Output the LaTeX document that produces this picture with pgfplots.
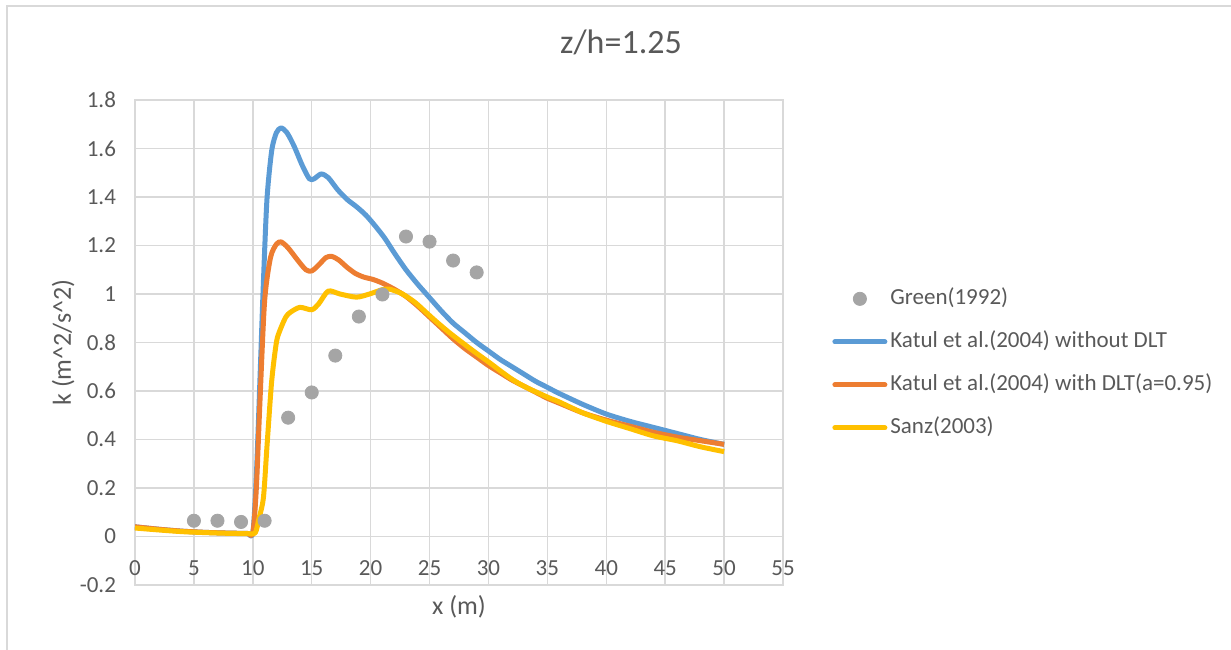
\documentclass[border=0pt]{standalone}
\usepackage{pgfplots}
\pgfplotsset{compat=1.18}
\usepackage{fontspec}
\setmainfont{Carlito}

\definecolor{gridgray}{HTML}{D9D9D9}
\definecolor{txtgray}{HTML}{595959}
\definecolor{kblue}{HTML}{5B9BD5}
\definecolor{korange}{HTML}{ED7D31}
\definecolor{syellow}{HTML}{FFC000}
\definecolor{ptgray}{HTML}{A5A5A5}

\begin{document}
\begin{tikzpicture}[x=1pt,y=1pt]
% chart area border (top and left edges)
\draw[gridgray, line width=1pt] (3.5,-2) -- (3.5,321.5) -- (620,321.5);
% chart title
\node[font=\fontsize{17}{20}\selectfont, text=txtgray, anchor=base] at (310.5,297.5) {z/h=1.25};

\begin{axis}[
  at={(67.5pt,32pt)}, anchor=south west,
  scale only axis, width=324pt, height=242.5pt,
  xmin=0, xmax=55, ymin=-0.2, ymax=1.8,
  xtick={0,5,10,15,20,25,30,35,40,45,50,55},
  ytick={-0.2,0,0.2,0.4,0.6,0.8,1,1.2,1.4,1.6,1.8},
  grid=major,
  major grid style={gridgray, line width=0.75pt},
  axis line style={gridgray, line width=0.75pt},
  tick style={draw=none},
  /pgf/number format/assume math mode=true,
  ticklabel style={font=\fontsize{11.5}{13}\selectfont, text=txtgray},
  xticklabel style={yshift=15.5pt},
  yticklabel style={xshift=-6pt},
  xlabel={x (m)},
  ylabel={k (m\^{}2/s\^{}2)},
  every axis x label/.style={at={(axis description cs:0.5,-0.0454)}, anchor=center,
    font=\fontsize{13}{15}\selectfont, text=txtgray},
  every axis y label/.style={at={(axis description cs:-0.111,0.5)}, rotate=90, anchor=center,
    font=\fontsize{13}{15}\selectfont, text=txtgray},
  legend style={draw=none, fill=none, at={(axis description cs:1.0756,0.457)}, anchor=west,
    font=\fontsize{11.5}{13}\selectfont, text=txtgray, row sep=7.5pt, inner sep=0pt,
    nodes={inner sep=1.5pt, text height=8.5pt, text depth=2.5pt}},
  legend cell align=left,
  legend image code/.code={\draw[#1, line width=2.5pt, line cap=round] (0pt,0pt) -- (25pt,0pt);},
  clip=false,
]

% Green (1992) measurements
\addplot[only marks, mark=*, mark size=3.3pt, color=ptgray,
  legend image code/.code={\fill[ptgray] (12.5pt,0pt) circle (3.3pt);}]
  coordinates {
  (5,0.065) (7,0.065) (9,0.06) (11,0.065) (13,0.49) (15,0.594) (17,0.746)
  (19,0.907) (21,0.998) (23,1.237) (25,1.216) (27,1.138) (29,1.089)
  };
\addlegendentry{Green(1992)}

% Katul et al. (2004) without DLT
\addplot[kblue, line width=2.5pt, line join=round, smooth, tension=0.45] coordinates {
  (0,0.040) (2,0.030) (4,0.022) (6,0.017) (8,0.014) (9.5,0.013) (10,0.015)
  (10.3,0.25) (10.6,0.64) (10.9,1.05) (11.2,1.39) (11.6,1.59) (12.0,1.665)
  (12.4,1.685) (12.9,1.665) (13.5,1.61) (14.2,1.53) (14.8,1.475) (15.2,1.475)
  (15.8,1.495) (16.4,1.48) (17.2,1.43) (18.0,1.39) (18.8,1.36) (19.6,1.325)
  (20.4,1.28) (21.2,1.23) (22.0,1.17) (23.0,1.10) (24.0,1.04) (25.0,0.985)
  (26,0.93) (27,0.88) (28,0.84) (29,0.80) (30,0.765) (31,0.73) (32,0.70)
  (33,0.67) (34,0.64) (35,0.615) (36,0.59) (38,0.545) (40,0.505) (42,0.475)
  (44,0.45) (46,0.425) (48,0.40) (50,0.38)
  };
\addlegendentry{Katul et al.(2004) without DLT}

% Katul et al. (2004) with DLT, a = 0.95
\addplot[korange, line width=2.5pt, line join=round, smooth, tension=0.45] coordinates {
  (0,0.040) (2,0.030) (4,0.022) (6,0.017) (8,0.014) (9.5,0.013) (10,0.015)
  (10.3,0.2) (10.6,0.55) (11.0,0.97) (11.5,1.15) (12.0,1.205) (12.4,1.215)
  (13.0,1.19) (13.8,1.14) (14.5,1.10) (15.0,1.095) (15.6,1.12) (16.2,1.15)
  (16.7,1.155) (17.3,1.14) (18.0,1.11) (18.7,1.085) (19.4,1.07) (20.2,1.06)
  (21.0,1.045) (22.0,1.02) (23.0,0.99) (24.0,0.95) (25.0,0.905) (26,0.86)
  (27,0.815) (28,0.775) (29,0.74) (30,0.705) (31,0.675) (32,0.645) (33,0.62)
  (34,0.595) (35,0.57) (36,0.55) (38,0.51) (40,0.48) (42,0.455) (44,0.43)
  (46,0.41) (48,0.395) (50,0.38)
  };
\addlegendentry{Katul et al.(2004) with DLT(a=0.95)}

% Sanz (2003)
\addplot[syellow, line width=2.5pt, line join=round, smooth, tension=0.45] coordinates {
  (0,0.035) (2,0.027) (4,0.020) (6,0.016) (8,0.013) (9.5,0.012) (10.2,0.015)
  (10.5,0.07) (10.9,0.16) (11.2,0.37) (11.6,0.64) (12.0,0.80) (12.3,0.85)
  (12.8,0.905) (13.2,0.925) (14.0,0.945) (15.0,0.935) (15.6,0.96) (16.4,1.012)
  (17.4,1.0) (18.8,0.987) (19.9,1.0) (21.0,1.018) (21.6,1.02) (22.5,1.005)
  (23.2,0.985) (23.9,0.96) (24.8,0.92) (25.6,0.885) (26.7,0.84) (27.9,0.795)
  (29,0.755) (30,0.72) (31.8,0.655) (33,0.62) (35,0.575) (36,0.555) (38,0.51)
  (40,0.475) (42,0.445) (44,0.415) (46,0.395) (48,0.37) (50,0.35)
  };
\addlegendentry{Sanz(2003)}
\end{axis}

\pgfresetboundingbox
\useasboundingbox (0,0) rectangle (615.5,324.5);
\end{tikzpicture}
\end{document}
